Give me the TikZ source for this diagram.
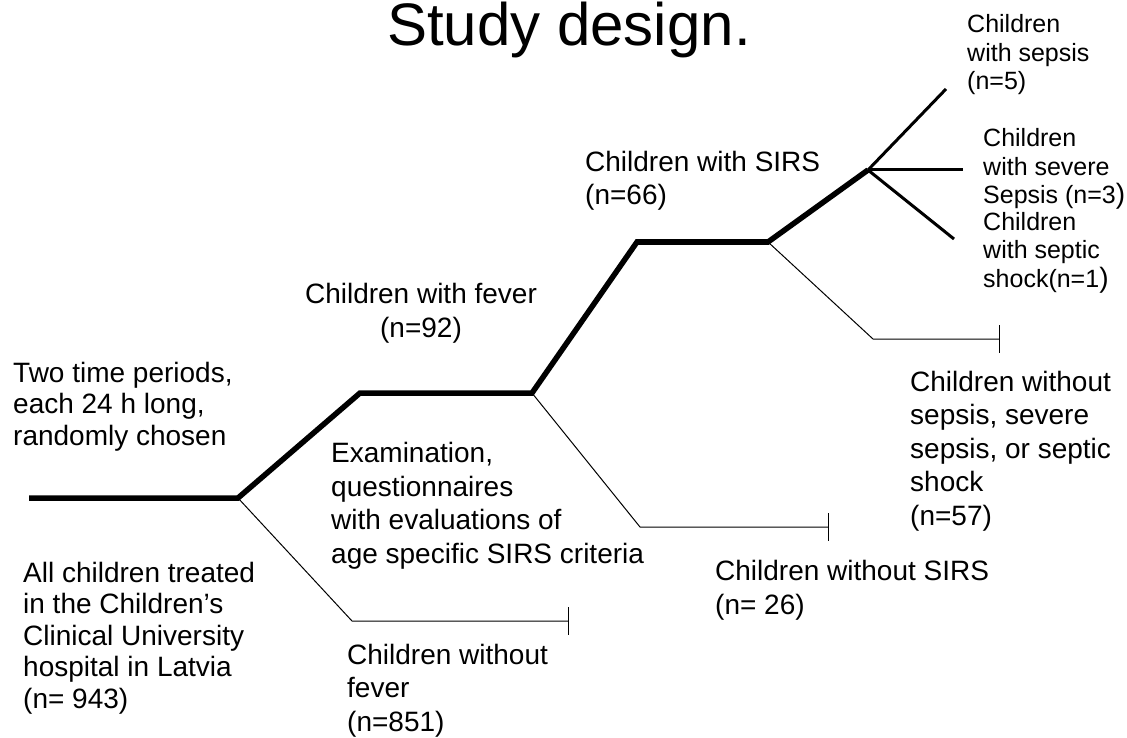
\documentclass[tikz,border=0pt]{standalone}
\usepackage{fontspec}
\setmainfont{Liberation Sans}
\usetikzlibrary{arrows.meta}

\begin{document}
\begin{tikzpicture}[x=1pt,y=-1pt,
  trunk/.style={line width=5.5pt,line join=miter},
  twig/.style={line width=3pt},
  side/.style={line width=1pt,-{Bar[width=28pt,line width=1pt]}},
  lbl/.style={inner sep=0pt,anchor=base west,align=left,font=\fontsize{28}{33.5}\selectfont},
  tight/.style={font=\fontsize{28}{31.5}\selectfont},
  small/.style={inner sep=0pt,anchor=base west,align=left,font=\fontsize{25}{28.5}\selectfont}]
  \useasboundingbox (0,0) rectangle (1127,738);

  % main path
  \coordinate (0) at (29,498);
  \coordinate (1) at (238,498);
  \coordinate (2) at (360,393);
  \coordinate (3) at (532,393);
  \coordinate (4) at (637,242);
  \coordinate (5) at (768,242);
  \coordinate (6) at (868,170);
  \draw[trunk] (0) -- (1) -- (2) -- (3) -- (4) -- (5) -- (6);

  % split at the end
  \coordinate (61) at (946,89);
  \coordinate (62) at (963,170);
  \coordinate (63) at (954,239);
  \draw[twig] (6) -- (61);
  \draw[twig] (6) -- (62);
  \draw[twig] (6) -- (63);

  % side branches
  \coordinate (11) at (352,621);
  \coordinate (12) at (569,621);
  \coordinate (31) at (640,527);
  \coordinate (32) at (829,527);
  \coordinate (51) at (873,339);
  \coordinate (52) at (1000,339);
  \draw[side] (1) -- (11) -- (12);
  \draw[side] (3) -- (31) -- (32);
  \draw[side] (5) -- (51) -- (52);

  % labels (placed at the baseline of their last line)
  \node[inner sep=0pt,anchor=base,font=\fontsize{60}{70}\selectfont] (title) at (569,46) {Study design.};
  \node[lbl,tight] (t0) at (13,445) {Two time periods,\\each 24 h long,\\randomly chosen};
  \node[lbl,tight] (b0) at (23,708) {All children treated\\in the Children’s\\Clinical University\\hospital in Latvia\\(n= 943)};
  \node[lbl] (exam) at (331,563) {Examination,\\questionnaires\\with evaluations of\\age specific SIRS criteria};
  \node[lbl] (b1) at (347,731) {Children without\\fever\\(n=851)};
  \node[lbl,anchor=base,align=center] (t1) at (421,337) {Children with fever\\(n=92)};
  \node[lbl] (t3) at (585,205) {Children with SIRS\\(n=66)};
  \node[lbl] (b3) at (715,614) {Children without SIRS\\(n= 26)};
  \node[lbl] (b5) at (910,525) {Children without\\sepsis, severe\\sepsis, or septic\\shock\\(n=57)};
  \node[small] (s1) at (967,90) {Children\\with sepsis\\(n=5)};
  \node[small] (s2) at (983,204) {Children\\with severe\\Sepsis (n=3{\fontsize{28}{28.5}\selectfont)}};
  \node[small] (s3) at (983,287) {Children\\with septic\\shock(n=1{\fontsize{28}{28.5}\selectfont)}};
\end{tikzpicture}
\end{document}
